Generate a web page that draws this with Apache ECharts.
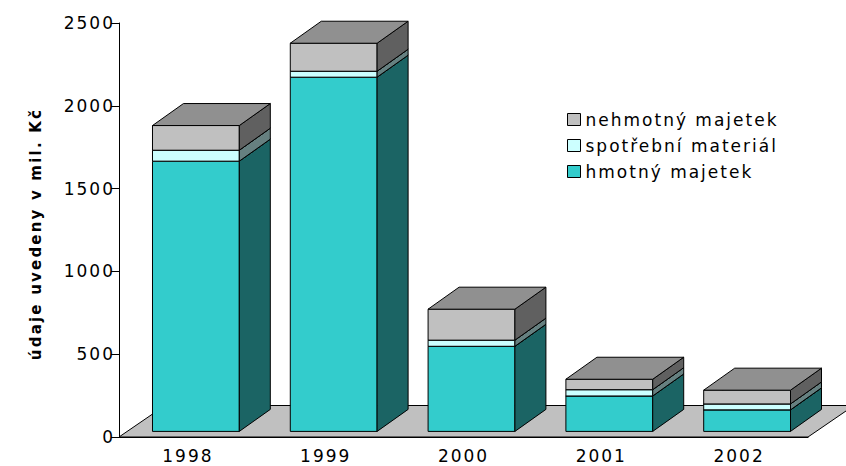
<!DOCTYPE html>
<html>
<head>
<meta charset="utf-8">
<script src="https://cdn.jsdelivr.net/npm/echarts@6/dist/echarts.min.js"></script>
<style>
html,body{margin:0;padding:0;background:#fff;}
#chart{width:846px;height:466px;}
#chart text{letter-spacing:2px;}
#chart text[style*="bold"]{letter-spacing:2.2px;}
</style>
</head>
<body>
<div id="chart"></div>
<script>
// ---- data ----
const categories = ['1998', '1999', '2000', '2001', '2002'];
const hmotnyMajetek = [1632, 2139, 514, 214, 130];
const spotrebniMaterial = [66, 36, 37, 38, 36];
const nehmotnyMajetek = [149, 169, 187, 63, 83];
const yTicks = [0, 500, 1000, 1500, 2000, 2500];
const seriesNames = ['hmotný majetek', 'spotřební materiál', 'nehmotný majetek'];
const yAxisTitle = 'údaje uvedeny v mil. Kč';

// ---- styles ----
const frontColors = ['#33CCCC', '#CCFFFF', '#C0C0C0'];
const sideColors = ['#1B6464', '#668080', '#606060'];
const topColors = ['#1F9999', '#99BFBF', '#909090'];
const FRONT_DX = 8, FRONT_DY = -5.6;   // bar front face offset in depth
const DEPTH_DX = 31, DEPTH_DY = -22;   // bar depth
const FLOOR_DX = 46, FLOOR_DY = -31.5; // floor depth
const BAR_RATIO = 0.63;

const stacks = [hmotnyMajetek, spotrebniMaterial, nehmotnyMajetek];
function buildData(k) {
  return categories.map((c, i) => {
    let base = 0;
    for (let j = 0; j < k; j++) base += stacks[j][i];
    return [i, base, base + stacks[k][i]];
  });
}

function makeRender(k) {
  return function (params, api) {
    const i = api.value(0);
    const p0 = api.coord([i, api.value(1)]);
    const p1 = api.coord([i, api.value(2)]);
    const bw = api.size([1, 0])[0] * BAR_RATIO;
    const x0 = p0[0] - bw / 2 + FRONT_DX;
    const x1 = x0 + bw;
    const yb = p0[1] + FRONT_DY;
    const yt = p1[1] + FRONT_DY;
    const line = { stroke: '#000', lineWidth: 1 };
    return {
      type: 'group',
      children: [
        { type: 'polygon', shape: { points: [[x0, yb], [x1, yb], [x1, yt], [x0, yt]] },
          style: Object.assign({ fill: frontColors[k] }, line) },
        { type: 'polygon', shape: { points: [[x1, yb], [x1 + DEPTH_DX, yb + DEPTH_DY], [x1 + DEPTH_DX, yt + DEPTH_DY], [x1, yt]] },
          style: Object.assign({ fill: sideColors[k] }, line) },
        { type: 'polygon', shape: { points: [[x0, yt], [x1, yt], [x1 + DEPTH_DX, yt + DEPTH_DY], [x0 + DEPTH_DX, yt + DEPTH_DY]] },
          style: Object.assign({ fill: topColors[k] }, line) }
      ]
    };
  };
}

function renderFloor(params, api) {
  const cs = params.coordSys;
  const yb = cs.y + cs.height;
  const xl = cs.x, xr = cs.x + cs.width;
  return {
    type: 'polygon',
    shape: { points: [[xl, yb], [xr, yb], [xr + FLOOR_DX, yb + FLOOR_DY], [xl + FLOOR_DX, yb + FLOOR_DY]] },
    style: { fill: '#C0C0C0', stroke: '#000', lineWidth: 1 }
  };
}

const font = 'DejaVu Sans';
const chart = echarts.init(document.getElementById('chart'), null, { renderer: 'svg' });
const series = [{
  type: 'custom', name: 'floor', silent: true, renderItem: renderFloor,
  data: [[0, 0]], encode: { x: 0, y: 1 }, z: 1
}];
stacks.forEach((arr, k) => {
  series.push({
    type: 'custom', name: seriesNames[k], renderItem: makeRender(k),
    data: buildData(k), encode: { x: 0, y: [1, 2] }, z: 2 + k,
    itemStyle: { color: frontColors[k], borderColor: '#000', borderWidth: 1 }
  });
});

chart.setOption({
  animation: false,
  backgroundColor: '#fff',
  grid: { left: 119, right: 38, top: 23, bottom: 29 },
  xAxis: {
    type: 'category', data: categories,
    axisLine: { show: true, lineStyle: { color: '#000', width: 1 } },
    axisTick: { show: false },
    axisLabel: { color: '#000', fontSize: 17, fontFamily: font, margin: 10 }
  },
  yAxis: {
    type: 'value', min: yTicks[0], max: yTicks[yTicks.length - 1], interval: 500,
    name: yAxisTitle, nameLocation: 'middle', nameGap: 76, nameRotate: 90,
    nameTextStyle: { color: '#000', fontSize: 15, fontWeight: 'bold', fontFamily: font, padding: [0, 8, 0, 0] },
    axisLine: { show: true, lineStyle: { color: '#000', width: 1 } },
    axisTick: { show: true, length: 8, lineStyle: { color: '#000' } },
    splitLine: { show: false },
    axisLabel: { color: '#000', fontSize: 17, fontFamily: font, margin: 4, formatter: v => String(v) }
  },
  legend: {
    orient: 'vertical', left: 567, top: 111, padding: 0,
    data: [seriesNames[2], seriesNames[1], seriesNames[0]],
    icon: 'rect', itemWidth: 13, itemHeight: 12, itemGap: 9,
    itemStyle: { borderColor: '#000', borderWidth: 1 },
    textStyle: { color: '#000', fontSize: 17, fontFamily: font },
    selectedMode: false
  },
  series: series
});
</script>
</body>
</html>
